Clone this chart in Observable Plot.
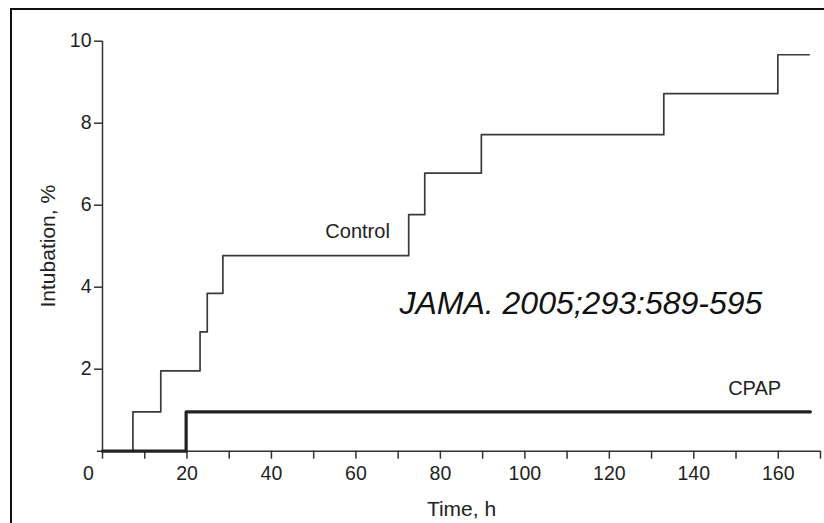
<!DOCTYPE html>
<html>
<head>
<meta charset="utf-8">
<script src="https://cdn.jsdelivr.net/npm/d3@7"></script>
<script src="https://cdn.jsdelivr.net/npm/@observablehq/plot@0.6"></script>
<style>
  html, body { margin: 0; padding: 0; background: #fff; }
  #wrap { position: relative; width: 824px; height: 523px; overflow: hidden; }
  #frame { position: absolute; left: 10px; top: 8px; width: 900px; height: 600px;
           border-top: 2.5px solid #111; border-left: 2px solid #111; pointer-events: none; }
</style>
</head>
<body>
<div id="wrap"><div id="frame"></div></div>
<script>
// Control group: cumulative intubation (%) over time (h)
const controlTime  = [0, 7.2, 13.8, 23.1, 24.8, 28.5, 72.5, 76.3, 89.7, 132.9, 159.9, 167.3];
const controlValue = [0, 0.96, 1.96, 2.91, 3.85, 4.77, 5.77, 6.78, 7.72, 8.72, 9.67, 9.67];
// CPAP group
const cpapTime  = [0, 19.8, 167.6];
const cpapValue = [0, 0.96, 0.96];

const xZeroTick = [0];
const xLabelTicks = [20, 40, 60, 80, 100, 120, 140, 160];
const xMinorTicks = [0, 10, 30, 50, 70, 90, 110, 130, 150, 170];
const yTicks = [2, 4, 6, 8, 10];

const seriesLabels = [
  {text: "Control", x: 60.4, y: 5.36},
  {text: "CPAP", x: 154.4, y: 1.52}
];
const citation = [{text: "JAMA. 2005;293:589-595", x: 70.3, y: 3.595}];

const control = controlTime.map((t, i) => ({t, v: controlValue[i]}));
const cpap = cpapTime.map((t, i) => ({t, v: cpapValue[i]}));

const font = "'Liberation Sans', Arial, Helvetica, sans-serif";

const chart = Plot.plot({
  width: 824,
  height: 523,
  marginLeft: 102,
  marginRight: 4,
  marginTop: 40.7,
  marginBottom: 72.3,
  x: {domain: [0, 170]},
  y: {domain: [0, 10]},
  style: {fontFamily: font, fontSize: "19.5px", color: "#222", background: "transparent"},
  marks: [
    Plot.ruleY([0], {x1: -1.2, x2: 170, stroke: "#333", strokeWidth: 1.5}),
    Plot.ruleX([0], {y1: 0, y2: 10, stroke: "#333", strokeWidth: 1.5}),
    Plot.axisX({ticks: xMinorTicks, tickSize: 8, tickFormat: () => "", label: null, stroke: "#333", strokeWidth: 1.5}),
    Plot.axisX({ticks: xLabelTicks, tickSize: 8, tickPadding: 7, label: null, stroke: "#333", strokeWidth: 1.5, fill: "#222"}),
    Plot.axisX({ticks: xZeroTick, tickSize: 0, tickPadding: 15, label: null, fill: "#222", dx: -14}),
    Plot.axisY({ticks: yTicks, tickSize: 8, tickPadding: 3, label: null, stroke: "#333", strokeWidth: 1.5, fill: "#222"}),
    Plot.line(control, {x: "t", y: "v", curve: "step-after", stroke: "#3a3a3a", strokeWidth: 1.7}),
    Plot.line(cpap, {x: "t", y: "v", curve: "step-after", stroke: "#222", strokeWidth: 3.2}),
    Plot.text(seriesLabels, {x: "x", y: "y", text: "text", fontSize: 20, fill: "#222"}),
    Plot.text(citation, {x: "x", y: "y", text: "text", textAnchor: "start", fontSize: 32, fontStyle: "italic", fill: "#111"}),
    Plot.text(["Intubation, %"], {frameAnchor: "left", textAnchor: "middle", lineAnchor: "middle", dx: -54.5, rotate: -90, fontSize: 21, fill: "#222"}),
    Plot.text(["Time, h"], {frameAnchor: "bottom", textAnchor: "middle", lineAnchor: "middle", dy: 58, fontSize: 21, fill: "#222"})
  ]
});
document.getElementById("wrap").insertBefore(chart, document.getElementById("frame"));
</script>
</body>
</html>
